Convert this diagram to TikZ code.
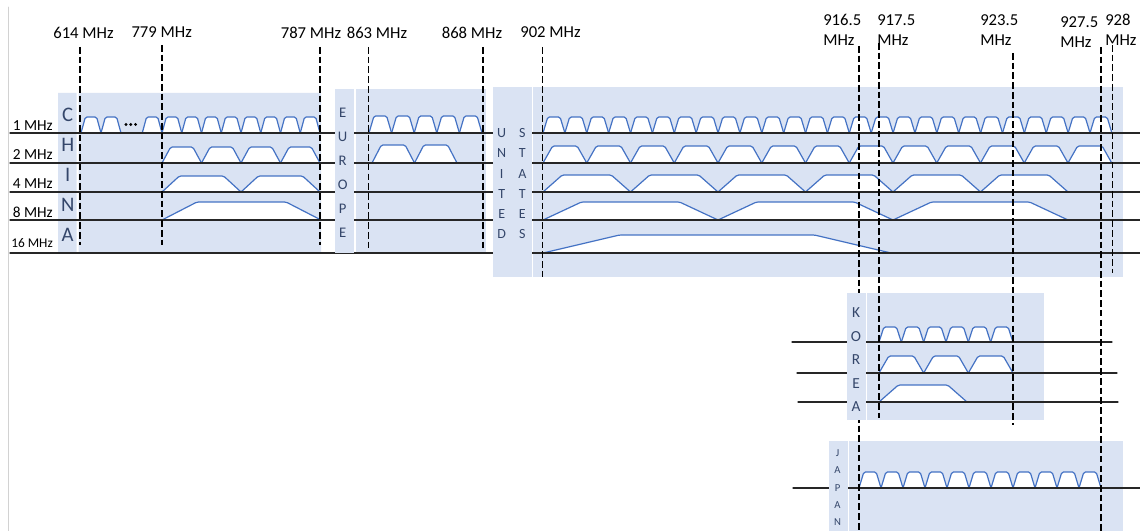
\documentclass[tikz,border=0pt]{standalone}
\usepackage{fontspec}
\setmainfont{Carlito}
\definecolor{panelblue}{HTML}{DAE3F3}
\definecolor{chanblue}{HTML}{4472C4}
\definecolor{lettergray}{HTML}{34466A}
\newcommand{\chanrow}[5]{%
	\foreach \k in {1,...,#3}{
		\filldraw[chan] ({#1+(\k-1)*#2},#4) -- ++({.22*#2},-#5) -- ++({.56*#2},0) -- ({#1+\k*#2},#4);
	}}
\begin{document}
\begin{tikzpicture}[x=.75pt, y=-.75pt, line join=round, line cap=round,
	panel/.style={fill=panelblue},
	chan/.style={draw=chanblue, fill=white, line width=.9pt, rounded corners=1.2pt},
	band/.style={black!85, line width=.9pt},
	freq/.style={dash pattern=on 5pt off 2.3pt, line width=.8pt, line cap=butt},
	mhz/.style={inner sep=0pt, font=\fontsize{12.5}{15}\selectfont},
	bw/.style={inner sep=0pt, font=\fontsize{11.5}{12}\selectfont},
	cn/.style={inner sep=0pt, text=lettergray}]
	\useasboundingbox (0,0) rectangle (1140,531);
	\draw[gray!35, line width=.6pt] (8.5,7) -- (8.5,531);
	% regions
	\fill[panel] (78.5,93) rectangle (321,252) (58,93) rectangle (76.5,252);
	\fill[panel] (356,89) rectangle (486,253);
	\fill[panel] (533,87) rectangle (1123,277);
	\fill[panel] (867,293) rectangle (1044,420);
	\fill[panel] (849,441) rectangle (1123,531);
	\foreach \l [count=\i] in {C,H,I,N,A}
		\node[cn, font=\fontsize{15.5}{16}\selectfont] (cn\i) at (67.7,{85+30*\i}) {\l};
	% channels
	\chanrow{81}{20}{2}{133}{16}
	\chanrow{142.25}{19.75}{9}{133}{16}
	\chanrow{162}{39.5}{4}{163}{16}
	\chanrow{162}{79}{2}{192}{16}
	\chanrow{162}{159}{1}{220}{18}
	\chanrow{369}{22.6}{5}{133}{17}
	\chanrow{372}{42.5}{2}{163}{18}
	\chanrow{543}{21.88}{26}{133}{16}
	\chanrow{543}{43.75}{13}{163}{17}
	\chanrow{543}{87.5}{6}{192}{17}
	\chanrow{543}{175}{3}{220}{18}
	\chanrow{543}{348}{1}{253}{18}
	\chanrow{879}{22.33}{6}{342}{15}
	\chanrow{879}{44.67}{3}{373}{17}
	\chanrow{879}{88}{1}{402}{17}
	\chanrow{859}{22}{11}{488}{16}
	\foreach \x in {126,130.8,135.6}
		\fill (\x,124.5) circle (1.6);
	% bandwidth rows
	\foreach \y in {133,163,192,220,253}
		\draw[band] (10,\y) -- (1140,\y);
	\draw[band] (792,342) -- (1112,342) (797,373) -- (1117,373) (798,402) -- (1118,402) (793,488) -- (1140,488);
	% frequency marks
	\foreach \x/\t/\b in {80/47/245, 162/45/245, 320/47/245, 368.5/47/248, 483/47/248, 542.5/47/277, 859/46/531, 879/43/418, 1013/53/425, 1101/47/531, 1112.5/45/273}
		\draw[freq] (\x,\t) -- (\x,\b);
	% country labels
	\fill[panel] (335,89) rectangle (354,253);
	\fill[panel] (493,87) rectangle (531.5,277);
	\fill[panel] (847,293) rectangle (866,420);
	\fill[panel] (829,441) rectangle (848,531);
	\foreach \l [count=\i] in {E,U,R,O,P,E}
		\node[cn, font=\fontsize{11}{11}\selectfont] (eu\i) at (342.7,{89+24*\i}) {\l};
	\foreach \l/\m [count=\i] in {U/S,N/T,I/A,T/T,E/E,D/S}{
		\node[cn, font=\fontsize{10.5}{11}\selectfont] (us\i) at (501.7,{113+20.2*\i}) {\l};
		\node[cn, font=\fontsize{10.5}{11}\selectfont] (st\i) at (522.3,{113+20.2*\i}) {\m};
	}
	\foreach \l [count=\i] in {K,O,R,E,A}
		\node[cn, font=\fontsize{11.5}{12}\selectfont] (kr\i) at (856,{289.5+23.5*\i}) {\l};
	\foreach \l [count=\i] in {J,A,P,A,N}
		\node[cn, font=\fontsize{8}{8}\selectfont] (jp\i) at (837.5,{436+17.2*\i}) {\l};
	% texts
	\foreach \x/\f [count=\i] in {83.5/614, 161.7/779, 311/787, 377/863, 472/868, 550.5/902}
		\node[mhz] (lo\i) at (\x,32.5) {\f\ MHz};
	\foreach \x/\y/\f [count=\i] in {823/30/916.5, 877/30/917.5, 980/30/923.5, 1060/32/927.5, 1105/30/928}
		\node[mhz, anchor=west, align=left] (hi\i) at (\x,\y) {\f\\MHz};
	\foreach \y/\f in {130.5/1, 159.5/2, 188.5/4, 217.5/8}
		\node[bw, anchor=base west] (bw\f) at (12.5,\y) {\f\ MHz};
	\node[bw, anchor=base west, font=\fontsize{10}{10}\selectfont] (bw16) at (11,247.5) {16 MHz};
\end{tikzpicture}
\end{document}
